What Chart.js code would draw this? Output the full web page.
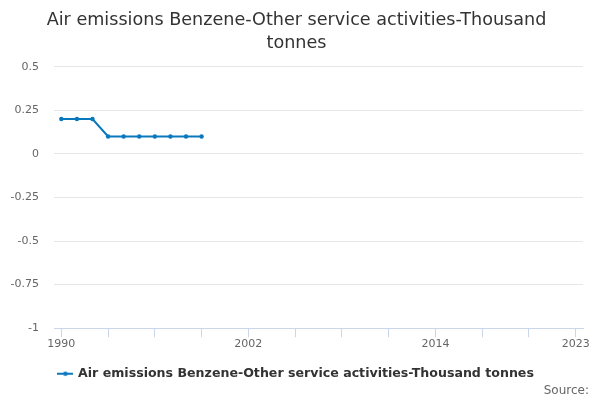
<!DOCTYPE html>
<html>
<head>
<meta charset="utf-8">
<script src="https://cdn.jsdelivr.net/npm/chart.js@4"></script>
<style>
html,body{margin:0;padding:0;background:#fff;}
#wrap{width:600px;height:400px;}
</style>
</head>
<body>
<div id="wrap"><canvas id="c"></canvas></div>
<script>
const titleLines = ["Air emissions Benzene-Other service activities-Thousand", "tonnes"];
const seriesName = "Air emissions Benzene-Other service activities-Thousand tonnes";
const sourceText = "Source:";
const years = [1990, 1991, 1992, 1993, 1994, 1995, 1996, 1997, 1998, 1999];
const values = [0.2, 0.2, 0.2, 0.1, 0.1, 0.1, 0.1, 0.1, 0.1, 0.1];
const xTickYears = [1990, 1993, 1996, 1999, 2002, 2005, 2008, 2011, 2014, 2017, 2020, 2023];
const xLabelYears = [1990, 2002, 2014, 2023];
const yMin = -1, yMax = 0.5, yStep = 0.25;

const FONT = "'DejaVu Sans', sans-serif";
const color = "#0a78bd";

// legend marker: short line with a dot
const marker = document.createElement('canvas');
marker.width = 16; marker.height = 8;
(function () {
  const g = marker.getContext('2d');
  g.strokeStyle = color; g.lineWidth = 2;
  g.beginPath(); g.moveTo(0, 4); g.lineTo(16, 4); g.stroke();
  g.fillStyle = color;
  g.beginPath(); g.arc(8, 4, 2.2, 0, Math.PI * 2); g.fill();
})();

// "Source:" note at the bottom right
const sourcePlugin = {
  id: 'sourceNote',
  afterDraw(chart) {
    const ctx = chart.ctx;
    ctx.save();
    ctx.font = "12px " + FONT;
    ctx.fillStyle = '#666666';
    ctx.textAlign = 'right';
    ctx.textBaseline = 'middle';
    ctx.fillText(sourceText, chart.width - 11, chart.height - 9.5);
    ctx.restore();
  }
};

new Chart(document.getElementById('c'), {
  type: 'line',
  data: {
    datasets: [{
      label: seriesName,
      data: years.map((y, i) => ({x: y, y: values[i]})),
      borderColor: color,
      backgroundColor: color,
      borderWidth: 2,
      pointRadius: 2.2,
      pointBorderWidth: 0,
      pointHoverRadius: 3,
      pointStyle: 'circle',
      tension: 0
    }]
  },
  plugins: [sourcePlugin],
  options: {
    responsive: true,
    maintainAspectRatio: false,
    animation: false,
    layout: {padding: {left: 10, right: 17, top: 9, bottom: 10}},
    plugins: {
      title: {
        display: true,
        text: titleLines,
        color: '#333333',
        font: {family: FONT, size: 17.6, weight: 'normal', lineHeight: 1.3},
        padding: {top: 0, bottom: 12}
      },
      legend: {
        display: true,
        position: 'bottom',
        labels: {
          color: '#333333',
          font: {family: FONT, size: 12.6, weight: 'bold'},
          usePointStyle: true,
          generateLabels: (chart) => [{
            text: seriesName,
            pointStyle: marker,
            fillStyle: color,
            strokeStyle: color,
            lineWidth: 0,
            fontColor: '#333333',
            hidden: false,
            datasetIndex: 0
          }],
          padding: 17
        }
      },
      tooltip: {enabled: false}
    },
    scales: {
      x: {
        type: 'linear',
        min: 1989.53,
        max: 2023.47,
        afterBuildTicks: (scale) => { scale.ticks = xTickYears.map(v => ({value: v})); },
        ticks: {
          autoSkip: false,
          maxRotation: 0,
          color: '#666666',
          font: {family: FONT, size: 11},
          padding: 0,
          callback: (v) => xLabelYears.includes(v) ? String(v) : ''
        },
        grid: {
          drawOnChartArea: false,
          drawTicks: true,
          tickLength: 9,
          color: '#ccd6eb',
          lineWidth: 1
        },
        border: {display: true, color: '#ccd6eb', width: 1}
      },
      y: {
        min: yMin,
        max: yMax,
        afterFit: (scale) => { scale.width = 44; },
        ticks: {
          stepSize: yStep,
          color: '#666666',
          font: {family: FONT, size: 11},
          padding: 15,
          callback: (v) => String(Math.round(v * 100) / 100)
        },
        grid: {
          color: '#e6e6e6',
          drawTicks: false,
          lineWidth: 1
        },
        border: {display: false}
      }
    }
  }
});
</script>
</body>
</html>
